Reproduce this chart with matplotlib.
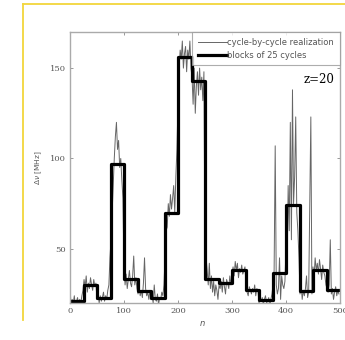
import numpy as np
import matplotlib
matplotlib.use("Agg")
import matplotlib.pyplot as plt
from matplotlib.lines import Line2D

# cycle-by-cycle values, read every 2 cycles (n = 0, 2, ..., 498)
n_cycle = np.arange(0, 500, 2)
dnu_cycle = [
    28, 19, 22, 20, 24, 18, 21, 23, 19, 22,
    20, 24, 27, 33, 29, 35, 26, 31, 28, 34,
    30, 27, 33, 29, 31, 22, 25, 20, 24, 21,
    23, 26, 21, 24, 22, 27, 30, 45, 55, 70,
    85, 100, 112, 120, 105, 110, 95, 100, 88, 78,
    40, 30, 36, 28, 33, 38, 31, 29, 35, 46,
    30, 34, 28, 25, 29, 24, 27, 23, 31, 45,
    28, 24, 26, 22, 27, 22, 24, 20, 30, 22,
    21, 25, 19, 23, 22, 26, 24, 30, 45, 60,
    62, 75, 68, 80, 72, 78, 85, 70, 90, 105,
    130, 150, 160, 155, 165, 150, 158, 162, 148, 160,
    155, 165, 150, 145, 130, 150, 125, 140, 148, 135,
    150, 138, 145, 132, 148, 50, 45, 38, 30, 42,
    28, 35, 26, 32, 24, 30, 27, 22, 30, 28,
    32, 26, 34, 29, 25, 33, 31, 28, 35, 30,
    36, 40, 35, 43, 38, 42, 34, 39, 37, 41,
    36, 38, 40, 30, 26, 24, 29, 27, 25, 28,
    26, 30, 24, 28, 27, 20, 22, 21, 23, 19,
    22, 24, 20, 21, 23, 18, 22, 25, 30, 38,
    107, 30, 25, 28, 45, 22, 35, 30, 28, 32,
    50, 40, 85, 60, 120, 55, 138, 75, 90, 123,
    70, 60, 45, 25, 30, 22, 27, 24, 28, 35,
    23, 26, 75, 123, 25, 40, 35, 45, 38, 42,
    36, 44, 39, 33, 41, 37, 35, 30, 28, 26,
    30, 55, 25, 28, 22, 26, 29, 24, 27, 25,
]

# blocks of 25 cycles
block_start = np.arange(0, 500, 25)
dnu_block = [21, 30, 23, 97, 33.5, 26.5, 23, 70, 156, 143,
             33.5, 31, 38, 27.4, 21.5, 36.7, 74, 26.5, 38.5, 27.4]

fig = plt.figure(figsize=(3.45, 3.40), dpi=100)
ax = fig.add_axes([70/345, 37/340, 270/345, 271/340])

ax.plot(n_cycle, dnu_cycle, color='#666666', lw=0.7,
        label='cycle-by-cycle realization')
ax.step(np.append(block_start, 500), dnu_block + [dnu_block[-1]],
        where='post', color='black', lw=2.3, label='blocks of 25 cycles')

ax.set_xlim(0, 500)
ax.set_ylim(20, 170)
ax.set_xticks([0, 100, 200, 300, 400, 500])
ax.set_yticks([50, 100, 150])
ax.tick_params(direction='in', length=2, width=0.6, color='#888888',
               labelsize=6, labelcolor='#555555', top=True, right=True, pad=3)
for lab in ax.get_xticklabels() + ax.get_yticklabels():
    lab.set_family('DejaVu Serif')
for s in ax.spines.values():
    s.set_color('#aaaaaa')
    s.set_linewidth(1.0)

leg = ax.legend(loc='upper right', bbox_to_anchor=(1.0, 1.0), fontsize=6,
                frameon=True, fancybox=False, borderpad=0.7,
                handlelength=3.4, handletextpad=0.1, labelspacing=0.45,
                borderaxespad=0)
leg.get_frame().set_edgecolor('#999999')
leg.get_frame().set_linewidth(0.8)
for t in leg.get_texts():
    t.set_color('#555555')

ax.text(0.98, 0.825, 'z=20', transform=ax.transAxes, ha='right', va='center',
        fontsize=8.5, family='DejaVu Serif')

fig.text(39/345, 1 - 168/340, r'$\Delta\nu$ [MHz]', rotation=90,
         ha='center', va='center', fontsize=5.3, color='#555555')
fig.text(202/345, 1 - 323/340, r'$n$', ha='center', va='center',
         fontsize=6, color='#555555')

# yellow frame lines
fig.add_artist(Line2D([23/345, 23/345], [1 - 4/340, 1 - 320/340],
                      transform=fig.transFigure, color='#f2d63c', lw=1.3))
fig.add_artist(Line2D([23/345, 1.0], [1 - 4/340, 1 - 4/340],
                      transform=fig.transFigure, color='#f2d63c', lw=1.3))

fig.savefig('out.png', dpi=100)
